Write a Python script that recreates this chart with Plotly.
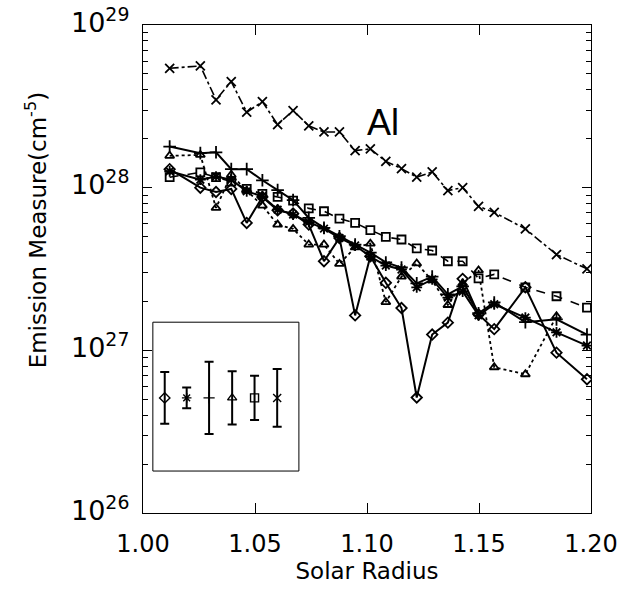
import plotly.graph_objects as go

# ---------------- data ----------------
radius = [1.0119, 1.0256, 1.0326, 1.0394, 1.0463, 1.0533, 1.0601, 1.0670,
          1.0740, 1.0808, 1.0877, 1.0947, 1.1015, 1.1084, 1.1154, 1.1222,
          1.1291, 1.1361, 1.1427, 1.1498, 1.1568, 1.1707, 1.1846, 1.1982]

em_diamond = [1.30e28, 1.00e28, 9.41e27, 9.82e27, 6.07e27, 8.77e27, 7.26e27, 6.93e27,
              5.93e27, 3.53e27, 4.91e27, 1.64e27, 3.79e27, 2.60e27, 1.82e27, 5.13e26,
              1.25e27, 1.48e27, 2.75e27, 1.66e27, 1.35e27, 2.44e27, 9.68e26, 6.64e26]

em_asterisk = [1.26e28, 1.12e28, 1.17e28, 1.12e28, 9.49e27, 8.85e27, 7.33e27, 6.83e27,
               6.14e27, 5.60e27, 4.91e27, 4.41e27, 3.77e27, 3.32e27, 3.14e27, 2.44e27,
               2.73e27, 2.11e27, 2.30e27, 1.64e27, 1.92e27, 1.59e27, 1.29e27, 1.07e27]

em_plus = [1.79e28, 1.63e28, 1.65e28, 1.30e28, 1.30e28, 1.11e28, 9.66e27, 8.38e27,
           6.52e27, 5.66e27, 5.03e27, 4.47e27, 3.99e27, 3.47e27, 3.23e27, 2.58e27,
           2.84e27, 2.21e27, 2.47e27, 1.69e27, 1.97e27, 1.49e27, 1.55e27, 1.25e27]

em_triangle = [1.57e28, 1.59e28, 7.51e27, 1.20e28, 9.59e27, 7.76e27, 5.93e27, 5.58e27,
               4.47e27, 4.47e27, 3.40e27, 4.29e27, 4.53e27, 1.98e27, 2.84e27, 3.42e27,
               2.69e27, 1.90e27, 2.58e27, 3.10e27, 7.87e26, 7.13e26, 1.62e27, None]

em_square = [1.16e28, 1.24e28, 1.16e28, 1.09e28, 9.82e27, 9.15e27, 8.77e27, 8.32e27,
             7.46e27, 7.16e27, 6.45e27, 6.07e27, 5.49e27, 4.98e27, 4.80e27, 4.23e27,
             4.11e27, 3.53e27, 3.53e27, 2.77e27, 2.93e27, 2.44e27, 2.15e27, 1.83e27]

em_cross = [5.42e28, 5.60e28, 3.47e28, 4.49e28, 2.91e28, 3.38e28, 2.44e28, 2.98e28,
            2.40e28, 2.20e28, 2.20e28, 1.69e28, 1.73e28, 1.45e28, 1.31e28, 1.16e28,
            1.25e28, 9.6e27, 1.00e28, 7.67e27, 7.05e27, 5.58e27, 3.88e27, 3.17e27]

# representative error bars (inset box)
errbar_x = [1.0097, 1.0195, 1.0295, 1.0398, 1.0498, 1.0599]
errbar_center = 5.1e26
errbar_dex = [0.159, 0.064, 0.222, 0.164, 0.136, 0.177]

x_ticks = [1.00, 1.05, 1.10, 1.15, 1.20]
x_ticktext = ["1.00", "1.05", "1.10", "1.15", "1.20"]
y_tick_exponents = [26, 27, 28, 29]
y_ticktext = ["10<sup>26</sup>", "10<sup>27</sup>", "10<sup>28</sup>", "10<sup>29</sup>"]

FONT = "DejaVu Sans"

series = [
    (em_diamond, "diamond-open", "solid", 2.0, 8),
    (em_asterisk, "asterisk-open", "solid", 2.0, 9),
    (em_plus, "cross-thin-open", "solid", 2.0, 9),
    (em_triangle, "triangle-up-open", "dot", 1.8, 8),
    (em_square, "square-open", "dash", 1.6, 8),
    (em_cross, "x-thin-open", "dashdot", 1.6, 9),
]
symbols = [s[1] for s in series]

fig = go.Figure()
for ys, sym, dash, lw, ms in series:
    fig.add_trace(go.Scatter(
        x=radius, y=ys, mode="lines+markers",
        line=dict(color="black", width=lw, dash=dash),
        marker=dict(symbol=sym, size=ms, color="black",
                    line=dict(color="black", width=1.8)),
        showlegend=False, connectgaps=False))

for xv, sym, d in zip(errbar_x, symbols, errbar_dex):
    up = errbar_center * (10 ** d - 1)
    dn = errbar_center * (1 - 10 ** (-d))
    fig.add_trace(go.Scatter(
        x=[xv], y=[errbar_center], mode="markers",
        marker=dict(symbol=sym, size=8, color="black",
                    line=dict(color="black", width=1.4)),
        error_y=dict(type="data", symmetric=False, array=[up], arrayminus=[dn],
                     color="black", thickness=2, width=4.5),
        showlegend=False))

# inset box
fig.add_shape(type="rect", xref="paper", yref="paper",
              x0=0.022, x1=0.348, y0=0.086, y1=0.391,
              line=dict(color="black", width=1))

fig.add_annotation(text="Al", x=1.107, y=28.40, xref="x", yref="y",
                   showarrow=False,
                   font=dict(family="Liberation Sans", size=36, color="black"))

fig.add_annotation(text="Emission Measure(cm<sup>-5</sup>)", textangle=-90,
                   xref="paper", yref="paper", x=-0.238, y=0.58,
                   xanchor="center", yanchor="middle",
                   showarrow=False, font=dict(family=FONT, size=23, color="black"))

# y tick labels (placed slightly above their ticks, as in the original)
for e, txt in zip(y_tick_exponents, y_ticktext):
    fig.add_annotation(text=txt, xref="paper", yref="y", x=0, y=e,
                       xanchor="right", yanchor="middle", xshift=-12, yshift=5,
                       showarrow=False, font=dict(family=FONT, size=27, color="black"))

fig.update_layout(
    width=630, height=593,
    margin=dict(l=143, r=33, t=25, b=80),
    paper_bgcolor="white", plot_bgcolor="white",
    font=dict(family=FONT, color="black"),
    xaxis=dict(range=[1.0, 1.2], tickvals=x_ticks, ticktext=x_ticktext,
               ticks="inside", ticklen=10, tickwidth=1, tickcolor="black",
               showline=True, linecolor="black", linewidth=1, mirror="ticks",
               showgrid=False, zeroline=False, ticklabelstandoff=9,
               tickfont=dict(family=FONT, size=24),
               title=dict(text="Solar Radius", font=dict(family=FONT, size=23), standoff=2)),
    yaxis=dict(type="log", range=[26, 29], tickvals=[10.0 ** e for e in y_tick_exponents],
               showticklabels=False,
               ticks="inside", ticklen=9, tickwidth=1, tickcolor="black",
               showline=True, linecolor="black", linewidth=1, mirror="ticks",
               showgrid=False, zeroline=False,
               minor=dict(ticks="inside", ticklen=5, dtick="D1", tickcolor="black",
                          showgrid=False)),
)

fig.write_html("out.html")
